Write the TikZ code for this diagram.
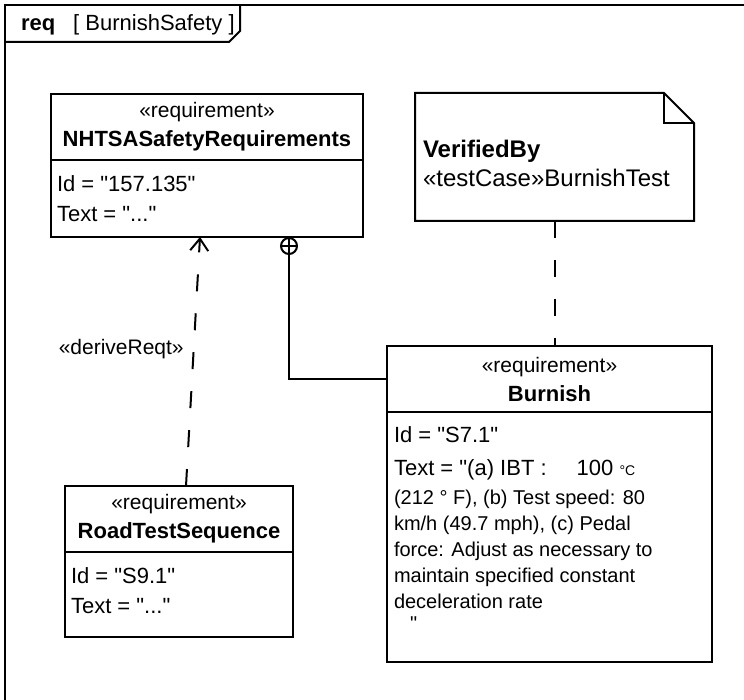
\documentclass[tikz,border=0pt]{standalone}
\usepackage{fontspec}
\setmainfont{Liberation Sans}
\usetikzlibrary{arrows.meta,positioning}
\newcommand\qt{\textquotedbl}

\begin{document}
\begin{tikzpicture}[x=0.5pt, y=-0.5pt, line width=1pt,
  every node/.style={inner sep=0pt},
  head/.style={draw, align=center, anchor=north west, minimum height=33pt, outer sep=0pt,
    font=\fontsize{10.5}{14.5}\selectfont},
  attrbox/.style={draw, minimum height=#1, outer sep=0pt},
  attr/.style={anchor=north west, align=left, font=\fontsize{11}{15}\selectfont},
  stereo/.style={font=\fontsize{10.5}{13}\selectfont},
  trace/.style={dash pattern=on 8.5pt off 11pt},
  derive/.style={trace, -{Straight Barb[length=6pt,width=9pt]}}
]
  \useasboundingbox (0,0) rectangle (744,700);

  % diagram frame
  \draw (5,700) -- (5,5) -- (744,5);
  \draw (5,42) -- (229,42) -- (240,31) -- (240,5);
  \node[anchor=west, font=\fontsize{11}{13}\selectfont] (title) at (20,25)
    {\textbf{req}\hspace{9pt}[ BurnishSafety ]};

  % requirements
  \node[head, minimum width=156pt] (nhtsa) at (51,94)
    {«requirement»\\{\bfseries\fontsize{11}{14.5}\selectfont NHTSASafetyRequirements}};
  \node[attrbox=38.5pt, minimum width=156pt, below=0pt of nhtsa] (nhtsa-body) {};
  \node[attr] (nhtsa-attr) at ([xshift=2.5pt,yshift=-7.5pt]nhtsa-body.north west)
    {Id = \qt157.135\qt\\Text = \qt...\qt};

  \node[head, minimum width=162.5pt] (burnish) at (387,346)
    {«requirement»\\{\bfseries\fontsize{11}{14.5}\selectfont Burnish}};
  \node[attrbox=125pt, minimum width=162.5pt, below=0pt of burnish] (burnish-body) {};
  \node[attr, font=\fontsize{10}{13}\selectfont] (burnish-attr)
    at ([xshift=3pt,yshift=-7pt]burnish-body.north west)
    {{\fontsize{11}{15}\selectfont Id = \qt S7.1\qt}\\[3.5pt]
     {\fontsize{11}{15}\selectfont Text = \qt(a) IBT :\hspace{15pt}100 {\scriptsize °C}}\\[1.5pt]
     (212 ° F), (b) Test speed: 80\\
     km/h (49.7 mph), (c) Pedal\\
     force: Adjust as necessary to\\
     maintain specified constant\\
     deceleration rate\\[-2pt]
     \hspace*{8pt}\qt};

  \node[head, minimum width=114pt] (road) at (65,486)
    {«requirement»\\{\bfseries\fontsize{11}{14.5}\selectfont RoadTestSequence}};
  \node[attrbox=42.5pt, minimum width=114pt, below=0pt of road] (road-body) {};
  \node[attr] (road-attr) at ([xshift=2.5pt,yshift=-7.5pt]road-body.north west)
    {Id = \qt S9.1\qt\\Text = \qt...\qt};

  % test case note
  \node[anchor=north west, minimum width=138.5pt, minimum height=63pt] (note) at (415,93) {};
  \draw (note.north west) -- ([xshift=-15pt]note.north east) -- ([yshift=-15pt]note.north east)
    -- (note.south east) -- (note.south west) -- cycle;
  \draw ([xshift=-15pt]note.north east) |- ([yshift=-15pt]note.north east);
  \node[anchor=west, align=left, font=\fontsize{12}{14.5}\selectfont] (note-text)
    at ([xshift=3.5pt,yshift=-3pt]note.west)
    {\textbf{VerifiedBy}\\«testCase»BurnishTest};

  % relations
  \node[circle, draw, minimum size=8pt] (whole) at (289,246) {};
  \draw (whole.north) -- (whole.south) (whole.west) -- (whole.east);
  \draw (whole.south) |- (burnish.west);
  \draw[trace] (note.south) -- (note.south |- burnish.north);
  \draw[derive] (road.north -| 186,0) -- node[pos=0.55, left=4.5pt, stereo] (derive-lab) {«deriveReqt»}
    (nhtsa-body.south -| 200,0);
\end{tikzpicture}
\end{document}
